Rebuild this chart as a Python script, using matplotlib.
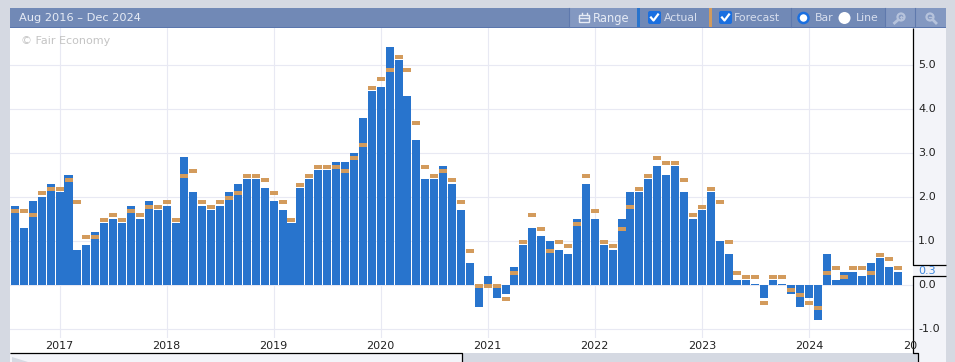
import matplotlib
matplotlib.use("Agg")
import matplotlib.pyplot as plt
from matplotlib.patches import Rectangle, Circle, FancyBboxPatch, Polygon

# months since Aug 2016, Nov 2024 is the last one with data
actual = [1.8, 1.3, 1.9, 2.0, 2.3, 2.1, 2.5, 0.8, 0.9, 1.2,
          1.4, 1.5, 1.4, 1.8, 1.5, 1.9, 1.7, 1.8, 1.4, 2.9,
          2.1, 1.8, 1.7, 1.8, 2.1, 2.3, 2.4, 2.4, 2.2, 1.9,
          1.7, 1.4, 2.2, 2.4, 2.6, 2.6, 2.8, 2.8, 3.0, 3.8,
          4.4, 4.5, 5.4, 5.1, 4.3, 3.3, 2.4, 2.4, 2.7, 2.3,
          1.7, 0.5, -0.5, 0.2, -0.3, -0.2, 0.4, 0.9, 1.3, 1.1,
          1.0, 0.8, 0.7, 1.5, 2.3, 1.5, 0.9, 0.8, 1.5, 2.1,
          2.1, 2.4, 2.7, 2.5, 2.7, 2.1, 1.5, 1.7, 2.1, 1.0,
          0.7, 0.1, 0.1, 0.02, -0.3, 0.1, 0.02, -0.2, -0.5, -0.3,
          -0.8, 0.7, 0.1, 0.3, 0.3, 0.2, 0.5, 0.6, 0.4, 0.3]
forecast = [1.7, 1.7, 1.6, 2.1, 2.2, 2.2, 2.4, 1.9, 1.1, 1.1,
            1.5, 1.6, 1.5, 1.7, 1.6, 1.8, 1.8, 1.9, 1.5, 2.5,
            2.6, 1.9, 1.8, 1.9, 2.0, 2.1, 2.5, 2.5, 2.4, 2.1,
            1.9, 1.5, 2.3, 2.5, 2.7, 2.7, 2.7, 2.6, 2.9, 3.2,
            4.5, 4.7, 4.9, 5.2, 4.9, 3.7, 2.7, 2.5, 2.6, 2.4,
            1.9, 0.8, 0.0, 0.0, 0.0, -0.3, 0.3, 1.0, 1.6, 1.3,
            0.8, 1.0, 0.9, 1.4, 2.5, 1.7, 1.0, 0.9, 1.3, 1.8,
            2.2, 2.5, 2.9, 2.8, 2.8, 2.4, 1.6, 1.8, 2.2, 1.9,
            1.0, 0.3, 0.2, 0.2, -0.4, 0.2, 0.2, -0.1, -0.2, -0.4,
            -0.5, 0.3, 0.4, 0.2, 0.4, 0.4, 0.3, 0.7, 0.6, 0.4]
year_labels = ["2017", "2018", "2019", "2020", "2021", "2022", "2023", "2024"]
year_months = [5, 17, 29, 41, 53, 65, 77, 89]
y_ticks = [-1.0, 0.0, 1.0, 2.0, 3.0, 4.0, 5.0]

BLUE = "#2874cd"
ORANGE = "#d39b5c"
GRID = "#e8e9f3"
GREY = "#d5d9e2"
STRIP = "#f3f4f9"
BAR_TOP = "#7189b6"
BTN = "#8398c1"
LABEL = "#e6ebf5"

W, H = 955, 362
fig = plt.figure(figsize=(W / 100, H / 100), dpi=100, facecolor=GREY)

# chrome layer in pixel coords, y going down
bg = fig.add_axes([0, 0, 1, 1], zorder=0)
bg.set_xlim(0, W)
bg.set_ylim(H, 0)
bg.axis("off")
bg.add_patch(Rectangle((10, 28), 903, 325, fc="white", ec="none"))
bg.add_patch(Rectangle((10, 354), 452, 8, fc=STRIP, ec="none"))
bg.add_patch(Polygon([(12, 362), (12, 357), (28, 362)], fc=GREY, ec="none"))
bg.add_patch(Rectangle((913, 28), 33, 334, fc=STRIP, ec="none"))
bg.add_patch(Rectangle((913, 353), 5, 9, fc=GREY, ec="none"))
bg.add_patch(Rectangle((10, 8), 936, 19, fc=BAR_TOP, ec="none"))
bg.add_patch(Rectangle((10, 27), 936, 1, fc="#5a76ad", ec="none"))

# buttons on the toolbar
bg.add_patch(Rectangle((569, 8), 68, 19, fc=BTN, ec="none"))
bg.add_patch(Rectangle((885, 8), 30, 19, fc=BTN, ec="none"))
bg.add_patch(Rectangle((916, 8), 30, 19, fc=BTN, ec="none"))
for x in [569, 791, 885, 915]:
    bg.plot([x, x], [8, 27], color="#5f79ad", lw=0.8)
bg.add_patch(Rectangle((637, 8), 3, 19, fc=BLUE, ec="none"))
bg.add_patch(Rectangle((709, 8), 3, 19, fc=ORANGE, ec="none"))

# calendar icon next to Range
bg.add_patch(Rectangle((579, 15), 10, 7, fc="none", ec=LABEL, lw=1))
bg.plot([579, 589], [17.5, 17.5], color=LABEL, lw=1)
bg.plot([581.5, 581.5], [12.5, 15], color=LABEL, lw=1)
bg.plot([586.5, 586.5], [12.5, 15], color=LABEL, lw=1)

for x in [648, 719]:
    bg.add_patch(FancyBboxPatch((x + 1, 12), 11, 11, boxstyle="round,pad=1,rounding_size=2",
                                fc="#1a6fe0", ec="none"))
    bg.plot([x + 3, x + 5.5, x + 10], [17.5, 20.5, 14.5], color="white", lw=1.6)

bg.add_patch(Circle((803.5, 18), 5, fc="white", ec="#1a6fe0", lw=1.8))
bg.add_patch(Circle((844.5, 18), 6, fc="white", ec="none"))

# the two zoom glasses
for x, sign in [(901, "+"), (930, "-")]:
    bg.add_patch(Circle((x, 17), 3.5, fc="none", ec="#b6c3dc", lw=1.6))
    if sign == "+":
        bg.plot([x - 3, x - 6.5], [20, 23], color="#b6c3dc", lw=2)
        bg.plot([x, x], [15.5, 18.5], color="#b6c3dc", lw=1)
    else:
        bg.plot([x + 3, x + 6], [20, 23], color="#b6c3dc", lw=2)
    bg.plot([x - 1.5, x + 1.5], [17, 17], color="#b6c3dc", lw=1)

fs = 8.0
bg.text(19, 18, "Aug 2016 – Dec 2024", color=LABEL, fontsize=8.2, va="center")
bg.text(593, 18.3, "Range", color=LABEL, fontsize=8.3, va="center")
bg.text(664, 18.3, "Actual", color="#d8dfee", fontsize=7.8, va="center")
bg.text(734, 18.3, "Forecast", color="#d8dfee", fontsize=7.8, va="center")
bg.text(815, 18.3, "Bar", color="#d8dfee", fontsize=7.8, va="center")
bg.text(856, 18.3, "Line", color="#d8dfee", fontsize=7.8, va="center")

# chart
ax = fig.add_axes([10 / W, 1 - 338 / H, 903 / W, 310 / H], zorder=1)
ax.patch.set_alpha(0)
months = list(range(len(actual)))
ax.set_xlim(-0.56, 100.68)
ax.set_ylim(-1.211, 5.834)
for spine in ax.spines.values():
    spine.set_visible(False)
ax.set_xticks(year_months)
ax.set_xticklabels(year_labels)
ax.set_yticks(y_ticks)
ax.set_axisbelow(True)
ax.grid(True, color=GRID, lw=0.8)
ax.tick_params(left=False, bottom=False, labelleft=False, labelbottom=False)

ax.bar(months, actual, width=0.9, color=BLUE, lw=0)
# forecast dashes: fixed 8x4 px markers, they sit a hair under the value
ax.plot(months, [f - 0.025 for f in forecast], ls="none", marker="_", ms=5.76, mew=2.88,
        color=ORANGE)

# labels and borders on top, in pixels again
top = fig.add_axes([0, 0, 1, 1], zorder=2)
top.set_xlim(0, W)
top.set_ylim(H, 0)
top.axis("off")
top.text(20.5, 41, "© Fair Economy", color="#c4c4c4", fontsize=fs, va="center")
for m, label in zip(year_months, year_labels):
    px = 10 + (m + 0.56) / (100.68 + 0.56) * 903
    top.text(px, 346, label, color="#222222", fontsize=fs, ha="center", va="center")
top.text(903, 346, "20", color="#222222", fontsize=fs, ha="left", va="center", clip_on=False)
top.add_patch(Rectangle((913, 338), 5, 15, fc=STRIP, ec="none"))
for v in y_ticks:
    label = f"{v:.1f}"
    top.text(918, 284.7 - 44 * v, label, color="#222222", fontsize=fs, ha="left", va="center")
top.text(918, 271, "0.3", color="#3d86dc", fontsize=fs, ha="left", va="center")

k = dict(color="black", lw=0.9, solid_capstyle="butt")
top.plot([913, 913, 946], [28, 265, 265], **k)
top.plot([946, 913, 913, 918, 918], [276, 276, 353, 353, 362], **k)
top.plot([10, 462, 462], [353, 353, 362], **k)

fig.savefig("out.png", dpi=100, facecolor=GREY)
